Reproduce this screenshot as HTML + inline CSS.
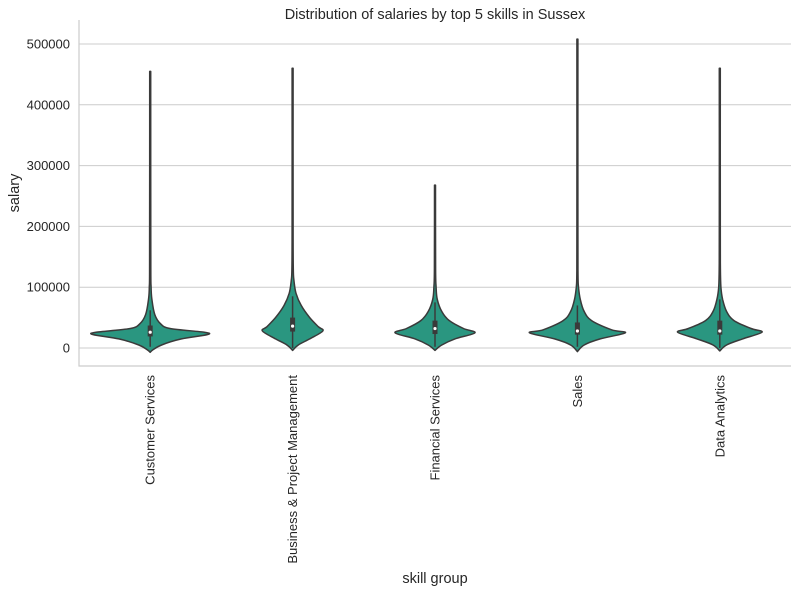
<!DOCTYPE html>
<html><head><meta charset="utf-8"><style>
body{margin:0;background:#fff;font-family:"Liberation Sans",sans-serif;}
svg text{font-family:"Liberation Sans",sans-serif;fill:#262626;}
</style></head><body>
<svg id="chart" width="797" height="592"></svg>
<script>
const categories=["Customer Services","Business & Project Management","Financial Services","Sales","Data Analytics"];
const yTicks=[0,100000,200000,300000,400000,500000];
// density profiles: salary (k) and relative half-width
const profSal=[
 [-7,-3,5,15,22,26,32,40,55,80,100,150,455],
 [-4,5,15,28,35,50,70,90,110,130,200,460],
 [-4,5,15,25,32,45,60,80,100,130,268],
 [-6,5,15,25,30,45,60,80,100,120,200,508],
 [-5,5,15,26,32,45,60,80,100,130,200,460]
];
const profW=[
 [0,0.05,0.2,0.55,1.0,0.95,0.35,0.18,0.08,0.03,0.015,0.01,0.008],
 [0,0.1,0.3,0.53,0.45,0.3,0.15,0.06,0.025,0.012,0.008,0.008],
 [0,0.12,0.35,0.7,0.5,0.25,0.12,0.04,0.02,0.01,0.008],
 [0,0.12,0.4,0.84,0.6,0.25,0.12,0.05,0.02,0.01,0.008,0.008],
 [0,0.12,0.4,0.74,0.55,0.25,0.12,0.05,0.02,0.01,0.008,0.008]
];
const q1=[19000,27000,23000,22000,22000];
const q3=[37000,50000,45000,42000,45000];
const med=[26000,36000,32000,28000,28000];
const whLo=[2000,0,2000,2000,0];
const whHi=[62000,85000,75000,70000,80000];

const NS="http://www.w3.org/2000/svg";
const svg=document.getElementById('chart');
const L=79,R=791,T=20,B=366;
const y=v=>348-v*0.000608;
const x=i=>L+(i+0.5)*(R-L)/categories.length;
const maxHalf=57;
function el(t,a,p){const e=document.createElementNS(NS,t);for(const k in a)e.setAttribute(k,a[k]);(p||svg).appendChild(e);return e;}
function smooth(pts){
 let d='M'+pts[0][0].toFixed(1)+','+pts[0][1].toFixed(1);
 for(let k=0;k<pts.length-1;k++){
  const p0=pts[Math.max(k-1,0)],p1=pts[k],p2=pts[k+1],p3=pts[Math.min(k+2,pts.length-1)];
  const c1=[p1[0]+(p2[0]-p0[0])/6,p1[1]+(p2[1]-p0[1])/6];
  const c2=[p2[0]-(p3[0]-p1[0])/6,p2[1]-(p3[1]-p1[1])/6];
  d+=` C${c1[0].toFixed(1)},${c1[1].toFixed(1)} ${c2[0].toFixed(1)},${c2[1].toFixed(1)} ${p2[0].toFixed(1)},${p2[1].toFixed(1)}`;
 }
 return d;
}
yTicks.forEach(v=>{
 const g=el('line',{x1:L,x2:R,y1:y(v),y2:y(v),stroke:'#cccccc','stroke-width':1});
 
 
 const t=el('text',{x:L-9,y:y(v)+4.5,'text-anchor':'end','font-size':13});
 t.textContent=v;
 
 
});
const ax=el('path',{d:`M${L},${T} V${B} H${R}`,fill:'none',stroke:'#cccccc','stroke-width':1.2});


categories.forEach((c,i)=>{
 const cx=x(i);const s=profSal[i],w=profW[i];
 let right=[],left=[];
 for(let k=0;k<s.length;k++){const hw=Math.max(w[k]*maxHalf,0.3);right.push([cx+hw,y(s[k]*1000)]);left.push([cx-hw,y(s[k]*1000)]);}
 right[0][0]=cx;left[0][0]=cx;
 left.reverse();
 const d=smooth(right)+' L'+smooth(left).slice(1)+'Z';
 const v=el('path',{d:d,fill:'#2a9680',stroke:'#3a3a3a','stroke-width':1.5,'stroke-linejoin':'round'});
 
 
 const wh=el('line',{x1:cx,x2:cx,y1:y(whLo[i]),y2:y(whHi[i]),stroke:'#3a3a3a','stroke-width':1.5});
 
 
 const bx=el('rect',{x:cx-2.5,y:y(q3[i]),width:5,height:y(q1[i])-y(q3[i]),fill:'#3a3a3a'});
 
 
 const m=el('circle',{cx:cx,cy:y(med[i]),r:1.6,fill:'#fff'});
 
 
 const t=el('text',{x:0,y:0,'text-anchor':'end','font-size':13,transform:`translate(${cx+4.5},${B+9}) rotate(-90)`});
 t.textContent=c;
 
 
});
const ti=el('text',{x:435,y:19,'text-anchor':'middle','font-size':14.5});ti.textContent='Distribution of salaries by top 5 skills in Sussex';


const xl=el('text',{x:435,y:583,'text-anchor':'middle','font-size':14.5});xl.textContent='skill group';


const yl=el('text',{x:0,y:0,'text-anchor':'middle','font-size':14.5,transform:'translate(19,193) rotate(-90)'});yl.textContent='salary';


</script>
</body></html>
